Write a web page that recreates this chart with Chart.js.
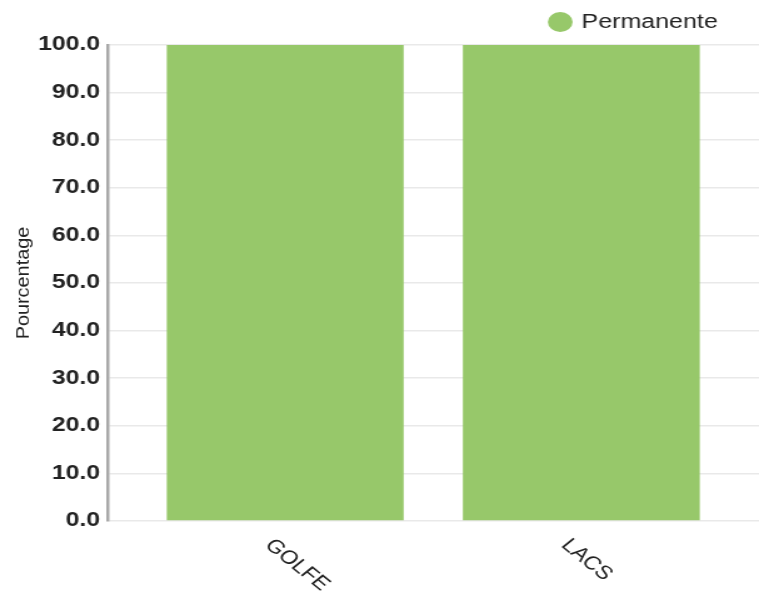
<!DOCTYPE html>
<html>
<head>
<meta charset="utf-8">
<script src="https://cdn.jsdelivr.net/npm/chart.js@4/dist/chart.umd.min.js"></script>
<style>
  html, body { margin: 0; padding: 0; background: #fff; overflow: hidden; }
  #wrap { width: 607px; height: 596px; transform: scaleX(1.25041); transform-origin: 0 0; }
  canvas { display: block; }
</style>
</head>
<body>
<div id="wrap"><canvas id="c" width="607" height="596"></canvas></div>
<script>
const categories = ['GOLFE', 'LACS'];
const seriesName = 'Permanente';
const values = [100.0, 100.0];
const yTicks = [0, 10, 20, 30, 40, 50, 60, 70, 80, 90, 100];
const yTitle = 'Pourcentage';

const GREEN = '#97c86a';
const TEXT = '#222222';
Chart.defaults.font.family = '"Liberation Sans", Arial, sans-serif';

const customPlugin = {
  id: 'custom',
  afterLayout(chart) {
    const lg = chart.legend;
    if (lg) { lg.left -= 23; lg.right -= 23; lg.top -= 3; lg.bottom -= 3; }
  },
  afterDraw(chart) {
    const ctx = chart.ctx;
    const xs = chart.scales.x;
    const area = chart.chartArea;
    ctx.save();
    ctx.fillStyle = TEXT;
    ctx.font = '19px "Liberation Sans", Arial, sans-serif';
    ctx.textAlign = 'left';
    ctx.textBaseline = 'alphabetic';
    categories.forEach((c, i) => {
      const px = xs.getPixelForValue(i);
      ctx.save();
      ctx.translate(px - 17, area.bottom + 25);
      ctx.rotate(Math.PI / 4);
      ctx.fillText(c, 0, 0);
      ctx.restore();
    });
    // y axis title
    ctx.save();
    ctx.font = '14px "Liberation Sans", Arial, sans-serif';
    ctx.textAlign = 'center';
    ctx.textBaseline = 'middle';
    ctx.translate(19.6, (area.top + area.bottom) / 2);
    ctx.rotate(-Math.PI / 2);
    ctx.scale(1.42, 1);
    ctx.fillText(yTitle, 0, 0);
    ctx.restore();
    ctx.restore();
  }
};

new Chart(document.getElementById('c'), {
  type: 'bar',
  data: {
    datasets: [{
      label: seriesName,
      data: values.map((v, i) => ({ x: i, y: v })),
      backgroundColor: GREEN,
      borderWidth: 0,
      categoryPercentage: 1.0,
      barPercentage: 0.8
    }]
  },
  options: {
    responsive: false,
    animation: false,
    devicePixelRatio: 1,
    layout: { padding: { top: 5, bottom: 67, left: 0, right: 0 } },
    plugins: {
      legend: {
        display: true,
        position: 'top',
        align: 'end',
        labels: {
          usePointStyle: true,
          pointStyle: 'circle',
          boxWidth: 14,
          boxHeight: 14,
          color: TEXT,
          font: { size: 20 },
          padding: 10
        }
      },
      tooltip: { enabled: false }
    },
    scales: {
      x: {
        type: 'linear',
        offset: false,
        bounds: 'data',
        min: -0.6,
        max: 1.6,
        afterBuildTicks: (s) => { s.ticks = categories.map((c, i) => ({ value: i })); },
        grid: { display: false },
        border: { display: false },
        ticks: { display: false }
      },
      y: {
        min: 0,
        max: 100,
        afterBuildTicks: (s) => { s.ticks = yTicks.map(v => ({ value: v })); },
        afterFit: (s) => { s.width = 86; },
        grid: { color: '#e9e9e9', lineWidth: 1.5, drawTicks: false },
        border: { display: true, color: '#a8a8a8', width: 2.5 },
        ticks: {
          padding: 6,
          color: TEXT,
          font: { size: 19.8, weight: 'bold' },
          callback: (v) => Number(v).toFixed(1)
        }
      }
    }
  },
  plugins: [customPlugin]
});
</script>
</body>
</html>
